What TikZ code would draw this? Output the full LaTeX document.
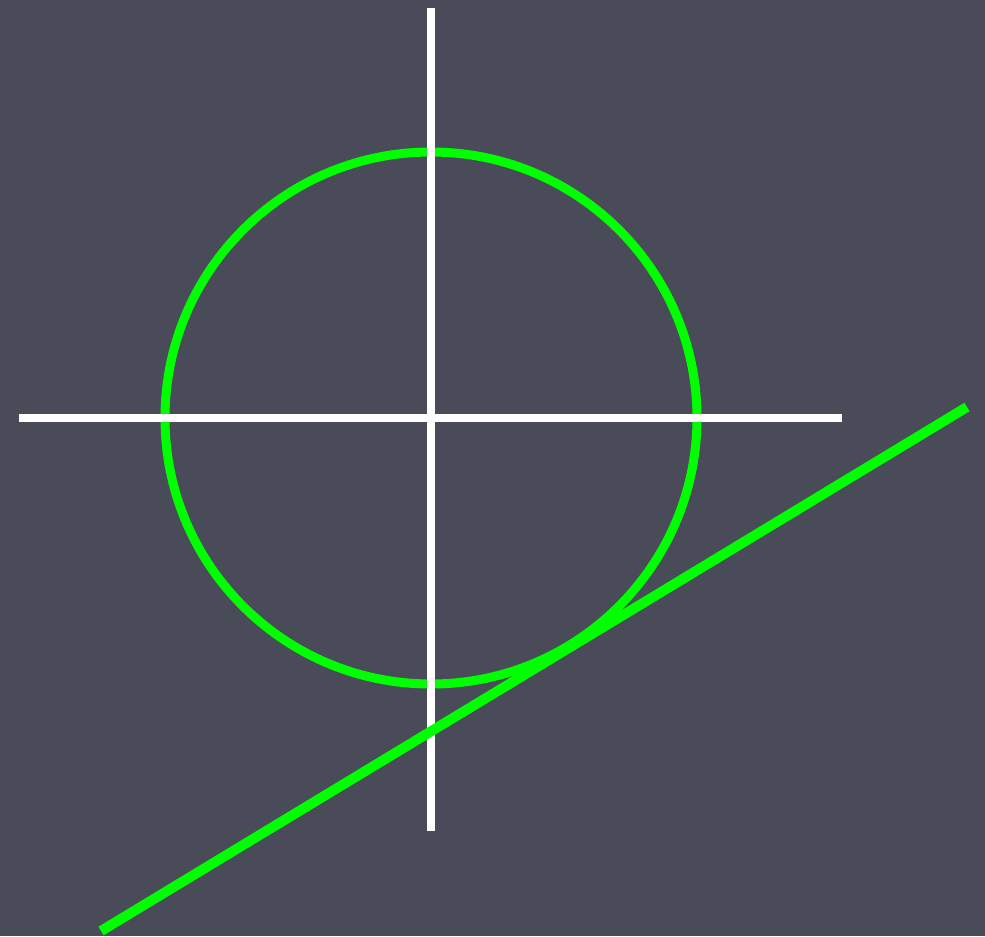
\documentclass[tikz,border=0pt]{standalone}
\usepackage{tikz}
\usetikzlibrary{calc}
\definecolor{slatebg}{HTML}{4A4B58}
\definecolor{brightgreen}{HTML}{00FF00}
\tikzset{
 tg axis/.style={line width=0.08cm,white},
 tg circle/.style={line width=0.09cm,brightgreen},
 tg line/.style={line width=0.1cm,brightgreen}
}
\begin{document}
\begin{tikzpicture}[x=0.01cm,y=-0.01cm]
 \fill[slatebg] (0,0) rectangle (985,936);
 \useasboundingbox (0,0) rectangle (985,936);
 \coordinate (o) at (431,418);
 \coordinate (top) at (431,8);
 \coordinate (bot) at (431,831);
 \coordinate (lft) at (19,418);
 \coordinate (rgt) at (842,418);
 \coordinate (t1) at (101,931);
 \coordinate (t2) at (967,407);

 \draw[tg circle] (o) circle[radius=266];
 \draw[tg axis] (top)--(bot);
 \draw[tg axis] (lft)--(rgt);
 \draw[tg line] (t1)--(t2);
\end{tikzpicture}
\end{document}
